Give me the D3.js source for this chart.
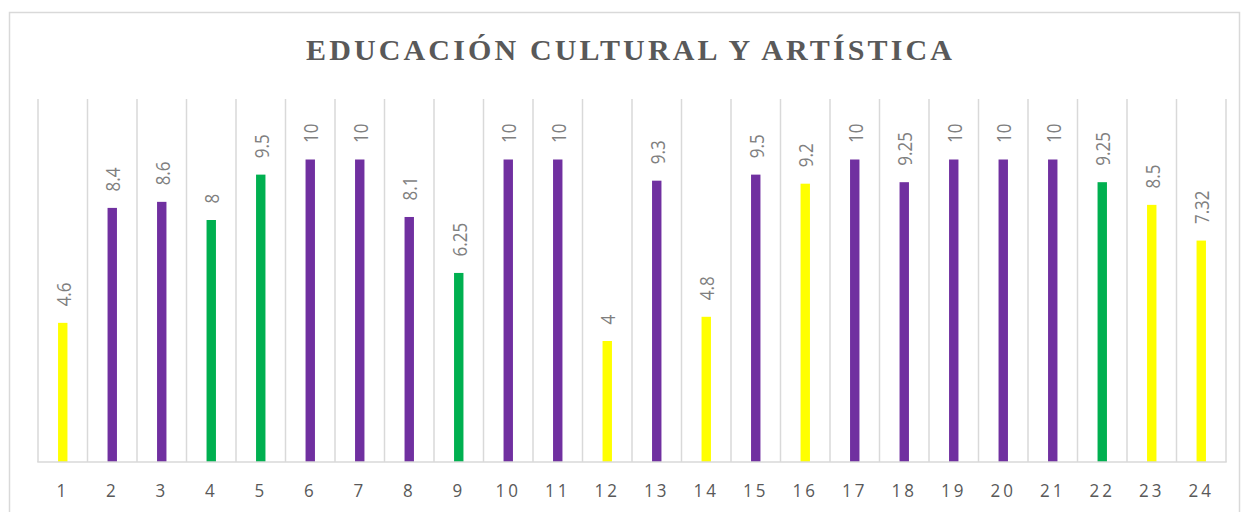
<!DOCTYPE html>
<html>
<head>
<meta charset="utf-8">
<script src="https://cdn.jsdelivr.net/npm/d3@7"></script>
<style>
  html, body { margin: 0; padding: 0; background: #ffffff; }
  svg { display: block; }
</style>
</head>
<body>
<svg id="chart" width="1246" height="512"></svg>
<script>
// ---- data ----
const categories = ["1","2","3","4","5","6","7","8","9","10","11","12","13","14","15","16","17","18","19","20","21","22","23","24"];
const values = [4.6, 8.4, 8.6, 8, 9.5, 10, 10, 8.1, 6.25, 10, 10, 4, 9.3, 4.8, 9.5, 9.2, 10, 9.25, 10, 10, 10, 9.25, 8.5, 7.32];
const labels = ["4.6","8.4","8.6","8","9.5","10","10","8.1","6.25","10","10","4","9.3","4.8","9.5","9.2","10","9.25","10","10","10","9.25","8.5","7.32"];
const groups = ["Y","P","P","G","G","P","P","P","G","P","P","Y","P","Y","P","Y","P","P","P","P","P","G","Y","Y"];
const title = "EDUCACIÓN CULTURAL Y ARTÍSTICA";
const yDomain = [0, 12];

const colorMap = { Y: "#FFFF00", P: "#7030A0", G: "#00B050" };

// ---- layout ----
const svg = d3.select("#chart");
const plot = { left: 38, right: 1226, top: 99, bottom: 462 };

// chart border
svg.append("rect")
  .attr("x", 9.5).attr("y", 12.5)
  .attr("width", 1230).attr("height", 520)
  .attr("fill", "#ffffff")
  .attr("stroke", "#d9d9d9").attr("stroke-width", 1.5);

// title
svg.append("text")
  .attr("x", 629).attr("y", 60)
  .attr("text-anchor", "middle")
  .attr("font-family", "'Liberation Serif', 'Times New Roman', serif")
  .attr("font-weight", "bold")
  .attr("font-size", 30)
  .attr("fill", "#595959")
  .attr("textLength", 646)
  .attr("lengthAdjust", "spacing")
  .text(title);

const x = d3.scaleBand().domain(categories).range([plot.left, plot.right]).padding(0);
const y = d3.scaleLinear().domain(yDomain).range([plot.bottom, plot.top]);

// vertical gridlines at category boundaries
const bounds = categories.map(c => x(c)).concat([plot.right]);
svg.append("g").selectAll("line").data(bounds).join("line")
  .attr("x1", d => d).attr("x2", d => d)
  .attr("y1", plot.top).attr("y2", plot.bottom)
  .attr("stroke", "#d9d9d9").attr("stroke-width", 1.5);

// bars
const barW = x.bandwidth() * 0.19;
const data = categories.map((c, i) => ({ c, v: values[i], l: labels[i], g: groups[i] }));
svg.append("g").selectAll("rect").data(data).join("rect")
  .attr("x", d => x(d.c) + x.bandwidth() / 2 - barW / 2)
  .attr("y", d => y(d.v))
  .attr("width", barW)
  .attr("height", d => y(0) - y(d.v))
  .attr("fill", d => colorMap[d.g]);

// baseline axis
svg.append("line")
  .attr("x1", plot.left - 0.75).attr("x2", plot.right + 0.75)
  .attr("y1", plot.bottom).attr("y2", plot.bottom)
  .attr("stroke", "#d9d9d9").attr("stroke-width", 1.5);

// x axis labels
const xAxis = d3.axisBottom(x).tickSize(0).tickPadding(0);
const gx = svg.append("g").attr("transform", `translate(0,${plot.bottom})`).call(xAxis);
gx.select(".domain").remove();
gx.selectAll("text")
  .attr("y", 0).attr("dy", 0)
  .attr("transform", "translate(0,35) scale(1,1.08)")
  .attr("font-family", "'Open Sans', 'Noto Sans', sans-serif")
  .attr("font-size", 17)
  .attr("letter-spacing", 3)
  .attr("fill", "#595959");

// data labels (rotated)
svg.append("g").selectAll("text").data(data).join("text")
  .attr("transform", d => `translate(${x(d.c) + x.bandwidth() / 2 + 0.8},${y(d.v) - 16.5}) rotate(-90) scale(1,1.2)`)
  .attr("dy", "0.35em")
  .attr("text-anchor", "start")
  .attr("font-family", "'Open Sans', 'Noto Sans', sans-serif")
  .attr("font-size", 17)
  .attr("fill", "#7f7f7f")
  .text(d => d.l);
</script>
</body>
</html>
